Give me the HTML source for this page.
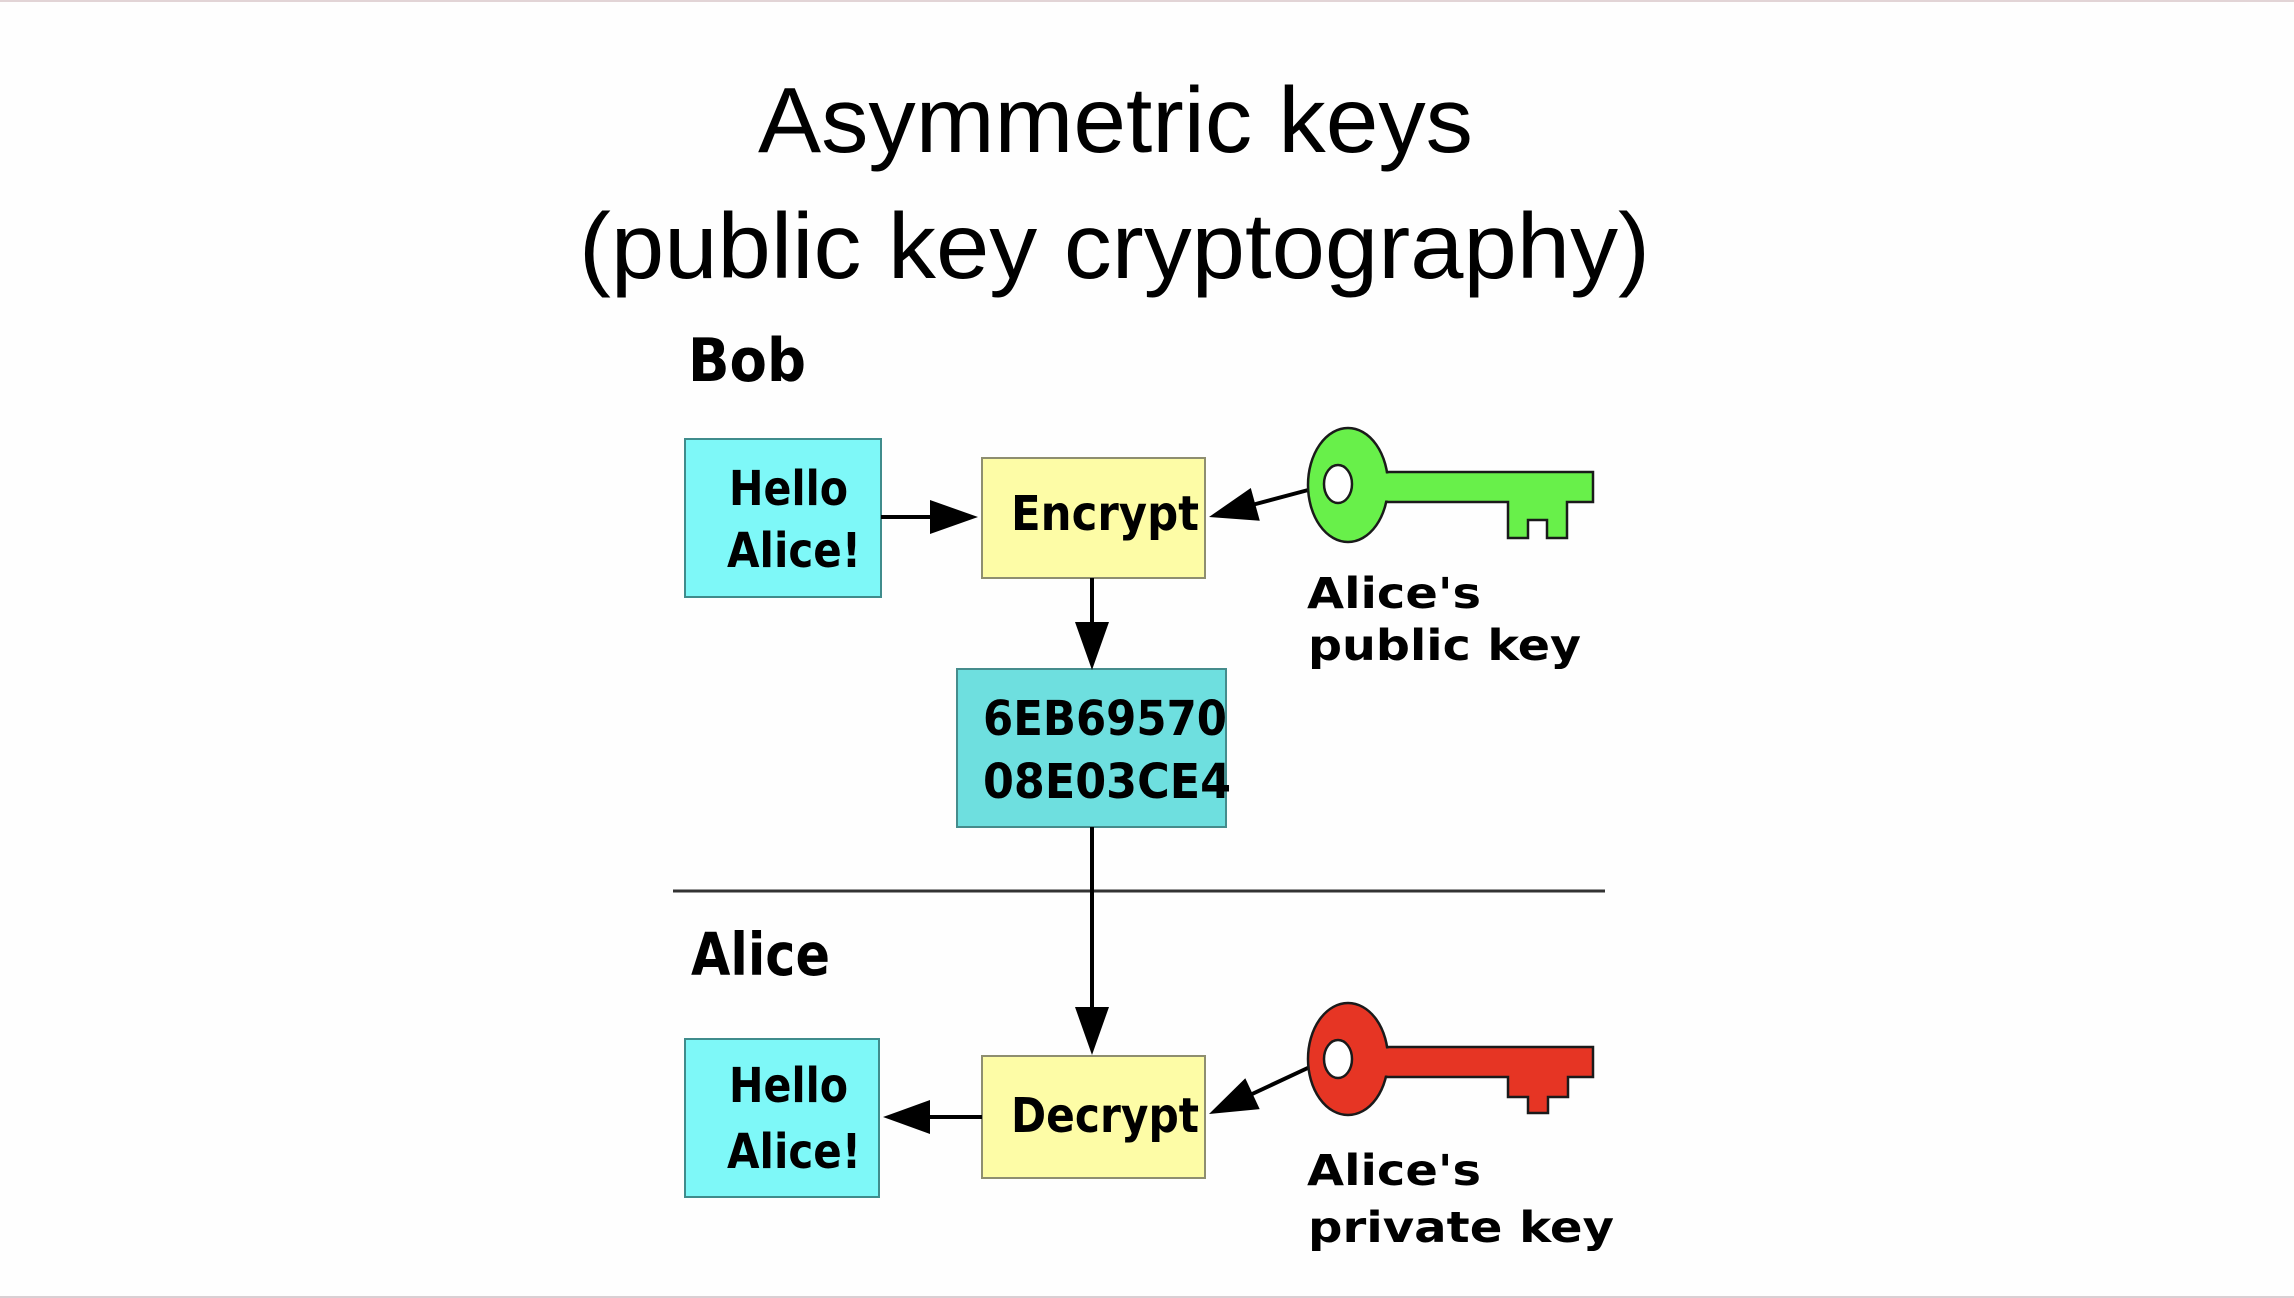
<!DOCTYPE html>
<html><head><meta charset="utf-8"><style>
html,body{margin:0;padding:0;background:#fefefe;}
svg{display:block;}
.t{font-family:"Liberation Sans",sans-serif;font-size:93px;fill:#000;}
.d{font-family:"DejaVu Sans","Liberation Sans",sans-serif;font-weight:bold;fill:#000;}
</style></head><body>
<svg width="2294" height="1298" viewBox="0 0 2294 1298" xmlns="http://www.w3.org/2000/svg">
<rect x="0" y="0" width="2294" height="1298" fill="#fefefe"/>
<rect x="0" y="0" width="2294" height="2" fill="#e2d4d6"/>
<rect x="0" y="1296" width="2294" height="2" fill="#d9cfd3"/>

<text class="t" x="758" y="152" textLength="715" lengthAdjust="spacingAndGlyphs">Asymmetric keys</text>
<text class="t" x="579" y="278" textLength="1071" lengthAdjust="spacingAndGlyphs">(public key cryptography)</text>

<text class="d" x="688" y="381" font-size="60" textLength="118" lengthAdjust="spacingAndGlyphs">Bob</text>
<text class="d" x="691" y="975" font-size="59" textLength="139" lengthAdjust="spacingAndGlyphs">Alice</text>

<line x1="673" y1="891" x2="1605" y2="891" stroke="#333" stroke-width="3"/>

<!-- boxes -->
<rect x="685" y="439" width="196" height="158" fill="#7ef8f8" stroke="#3f8c8c" stroke-width="2"/>
<rect x="982" y="458" width="223" height="120" fill="#fdfca6" stroke="#8e8e70" stroke-width="2"/>
<rect x="957" y="669" width="269" height="158" fill="#6edfdf" stroke="#458c8c" stroke-width="2"/>
<rect x="982" y="1056" width="223" height="122" fill="#fdfca6" stroke="#8e8e70" stroke-width="2"/>
<rect x="685" y="1039" width="194" height="158" fill="#7ef8f8" stroke="#3f8c8c" stroke-width="2"/>

<!-- box texts -->
<text class="d" x="729" y="505" font-size="48" textLength="119" lengthAdjust="spacingAndGlyphs">Hello</text>
<text class="d" x="727" y="567" font-size="48" textLength="134" lengthAdjust="spacingAndGlyphs">Alice!</text>
<text class="d" x="1011" y="530" font-size="48" textLength="188" lengthAdjust="spacingAndGlyphs">Encrypt</text>
<text class="d" x="983" y="735" font-size="48" textLength="244" lengthAdjust="spacingAndGlyphs">6EB69570</text>
<text class="d" x="983" y="798" font-size="48" textLength="248" lengthAdjust="spacingAndGlyphs">08E03CE4</text>
<text class="d" x="1011" y="1132" font-size="48" textLength="188" lengthAdjust="spacingAndGlyphs">Decrypt</text>
<text class="d" x="729" y="1102" font-size="48" textLength="119" lengthAdjust="spacingAndGlyphs">Hello</text>
<text class="d" x="727" y="1168" font-size="48" textLength="134" lengthAdjust="spacingAndGlyphs">Alice!</text>

<!-- key labels -->
<text class="d" x="1307" y="608" font-size="43" textLength="174" lengthAdjust="spacingAndGlyphs">Alice's</text>
<text class="d" x="1308" y="660" font-size="43" textLength="273" lengthAdjust="spacingAndGlyphs">public key</text>
<text class="d" x="1307" y="1185" font-size="43" textLength="174" lengthAdjust="spacingAndGlyphs">Alice's</text>
<text class="d" x="1308" y="1242" font-size="43" textLength="306" lengthAdjust="spacingAndGlyphs">private key</text>

<!-- arrows -->
<g stroke="#000" stroke-width="4" fill="none">
<line x1="881" y1="517" x2="935" y2="517"/>
<line x1="1312" y1="489" x2="1252" y2="505"/>
<line x1="1092" y1="578" x2="1092" y2="626"/>
<line x1="1092" y1="827" x2="1092" y2="1010"/>
<line x1="1312" y1="1066" x2="1250" y2="1095"/>
<line x1="982" y1="1117" x2="926" y2="1117"/>
</g>
<g fill="#000">
<polygon points="978,517 930,500 930,534"/>
<polygon points="1209,517 1259.8,520.8 1250.8,488"/>
<polygon points="1092,670 1075,622 1109,622"/>
<polygon points="1092,1055 1075,1007 1109,1007"/>
<polygon points="1209,1114 1259.7,1109.1 1245.3,1078.3"/>
<polygon points="883,1117 930,1100 930,1134"/>
</g>

<!-- green key -->
<g stroke="#1a1a1a" stroke-width="2.5" stroke-linejoin="miter">
<path d="M1380,472 L1593,472 L1593,502 L1567,502 L1567,538 L1547,538 L1547,520 L1528,520 L1528,538 L1508,538 L1508,502 L1380,502 Z" fill="#68f04a"/>
<ellipse cx="1348" cy="485" rx="40" ry="57" fill="#68f04a"/>
<rect x="1378" y="473.5" width="14" height="27" fill="#68f04a" stroke="none"/>
<ellipse cx="1338" cy="484" rx="14" ry="19" fill="#fff"/>
</g>

<!-- red key -->
<g stroke="#1a1a1a" stroke-width="2.5" stroke-linejoin="miter">
<path d="M1380,1047 L1593,1047 L1593,1077 L1568,1077 L1568,1097 L1548,1097 L1548,1113 L1528,1113 L1528,1097 L1508,1097 L1508,1077 L1380,1077 Z" fill="#e63524"/>
<ellipse cx="1348" cy="1059" rx="40" ry="56" fill="#e63524"/>
<rect x="1378" y="1048.5" width="14" height="27" fill="#e63524" stroke="none"/>
<ellipse cx="1338" cy="1059" rx="14" ry="19" fill="#fff"/>
</g>
</svg>
</body></html>
